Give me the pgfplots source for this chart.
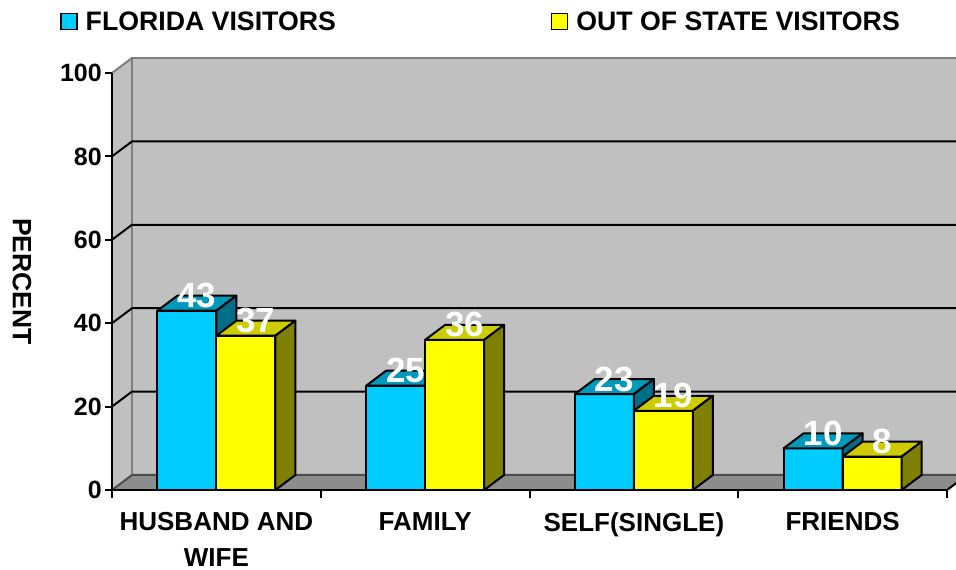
\documentclass[border=0pt]{standalone}
\usepackage{fontspec}
\setmainfont{Liberation Sans}
\usepackage{pgfplots}
\usepackage{pgfplotstable}
\pgfplotsset{compat=1.18}

\definecolor{flfront}{HTML}{00CCFF}
\definecolor{fltop}{HTML}{0099BB}
\definecolor{flside}{HTML}{006E87}
\definecolor{osfront}{HTML}{FFFF00}
\definecolor{ostop}{HTML}{CCCC00}
\definecolor{osside}{HTML}{808000}
\definecolor{wallgray}{HTML}{C0C0C0}
\definecolor{floorgray}{HTML}{8C8C8C}
\definecolor{edgegray}{HTML}{808080}

\pgfplotstableread{
x v
0.5 43
1.5 25
2.5 23
3.5 10
}\florida
\pgfplotstableread{
x v
0.5 37
1.5 36
2.5 19
3.5 8
}\outofstate

% 3D top and side faces of the bars (height taken from the data value)
\pgfdeclareplotmark{flbox}{%
  \pgfmathsetmacro\barhh{\yv*4.17}%
  \filldraw[fill=fltop,draw=black,line width=2bp,line join=round]
    (-59bp,0bp) -- (0bp,0bp) -- (20bp,15bp) -- (-39bp,15bp) -- cycle;
  \filldraw[fill=flside,draw=black,line width=2bp,line join=round]
    (0bp,0bp) -- (20bp,15bp) -- (20bp,15bp-\barhh bp) -- (0bp,-\barhh bp) -- cycle;
}
% the front face is repeated here so that it lies over the neighbouring side face
\pgfdeclareplotmark{osbox}{%
  \pgfmathsetmacro\barhh{\yv*4.17}%
  \filldraw[fill=osfront,draw=black,line width=2bp,line join=round]
    (0bp,0bp) rectangle (59bp,-\barhh bp);
  \filldraw[fill=ostop,draw=black,line width=2bp,line join=round]
    (0bp,0bp) -- (59bp,0bp) -- (79bp,15bp) -- (20bp,15bp) -- cycle;
  \filldraw[fill=osside,draw=black,line width=2bp,line join=round]
    (59bp,0bp) -- (79bp,15bp) -- (79bp,15bp-\barhh bp) -- (59bp,-\barhh bp) -- cycle;
}

\newcommand\bk[2]{([shift={(20bp,15bp)}]axis cs:#1,#2)}

\begin{document}
\begin{tikzpicture}
\useasboundingbox (0,0) rectangle (956bp,570bp);
\fill[white] (0,0) rectangle (956bp,570bp);
\clip (0,0) rectangle (956bp,570bp);
\begin{axis}[
  at={(112bp,80bp)}, anchor=south west,
  scale only axis, width=835bp, height=417bp,
  xmin=0, xmax=4, ymin=0, ymax=100,
  clip=false, axis on top,
  axis lines*=left,
  axis line style={black, line width=2bp},
  ytick={0,20,...,100},
  xtick={0.5,1.5,2.5,3.5},
  xticklabels={{HUSBAND AND\\WIFE},FAMILY,SELF(SINGLE),FRIENDS},
  xtick style={draw=none},
  ytick style={black, line width=2bp},
  tick align=outside, major tick length=7bp,
  /pgf/number format/assume math mode=true,
  yticklabel style={font=\bfseries\fontsize{25bp}{30bp}\selectfont, inner sep=0pt, xshift=-3bp},
  xticklabel style={font=\bfseries\fontsize{26bp}{36bp}\selectfont, align=center, inner sep=0pt, yshift=-15bp},
  ylabel={PERCENT},
  every axis y label/.style={at={([xshift=-90bp]axis description cs:0,0.5)}, rotate=-90, anchor=center, font=\bfseries\fontsize{26.5bp}{30bp}\selectfont},
  legend columns=2,
  legend style={draw=none, fill=none, inner sep=0pt,
    at={([xshift=-52bp,yshift=51.5bp]axis description cs:0,1)}, anchor=west,
    font=\bfseries\fontsize{26.7bp}{30bp}\selectfont,
    /tikz/every odd column/.append style={column sep=6bp},
    /tikz/every even column/.append style={column sep=213bp},
    cells={anchor=west}},
  legend image code/.code={\draw[#1,draw=black,line width=1.5bp] (0bp,-8bp) rectangle (16bp,8bp);},
]
% walls and floor
\fill[wallgray] \bk{0}{0} rectangle \bk{4.3}{100};
\fill[wallgray] (axis cs:0,0) -- (axis cs:0,100) -- \bk{0}{100} -- \bk{0}{0} -- cycle;
\fill[floorgray] (axis cs:0,0) -- (axis cs:4,0) -- \bk{4}{0} -- \bk{0}{0} -- cycle;
\draw[edgegray, line width=2bp] \bk{0}{0} -- \bk{0}{100} -- \bk{4.3}{100};
\draw[edgegray, line width=2bp] (axis cs:0,100) -- \bk{0}{100};
\draw[black!70, line width=2bp] (axis cs:0,0) -- \bk{0}{0} -- \bk{4.3}{0};
\draw[black, line width=2bp] (axis cs:4,0) -- \bk{4}{0};
\pgfplotsinvokeforeach{20,40,60,80}{
  \draw[black, line width=2bp] (axis cs:0,#1) -- \bk{0}{#1} -- \bk{4.3}{#1};
}
\pgfplotsinvokeforeach{0,1,2,3,4}{
  \draw[black, line width=2bp] (axis cs:#1,0) -- ++(0bp,-8bp);
}
% Florida visitors
\addplot[forget plot, ybar, bar width=59bp, bar shift=-29.5bp, fill=flfront, draw=black, line width=2bp]
  table[x=x,y=v]{\florida};
\addplot[forget plot, scatter, only marks, mark=flbox,
  scatter/@pre marker code/.code={}, scatter/@post marker code/.code={},
  visualization depends on={rawy \as \yv}]
  table[x=x,y=v]{\florida};
% Out of state visitors
\addplot[forget plot, ybar, bar width=59bp, bar shift=29.5bp, fill=osfront, draw=black, line width=2bp]
  table[x=x,y=v]{\outofstate};
\addplot[forget plot, scatter, only marks, mark=osbox,
  scatter/@pre marker code/.code={}, scatter/@post marker code/.code={},
  visualization depends on={rawy \as \yv}]
  table[x=x,y=v]{\outofstate};
% value labels
\addplot[forget plot, draw=none, mark=none, nodes near coords,
  every node near coord/.append style={anchor=base, xshift=-19.5bp, yshift=3bp, text=white,
    font=\bfseries\fontsize{35bp}{40bp}\selectfont, inner sep=0pt}]
  table[x=x,y=v]{\florida};
\addplot[forget plot, draw=none, mark=none, nodes near coords,
  every node near coord/.append style={anchor=base, xshift=39.5bp, yshift=3bp, text=white,
    font=\bfseries\fontsize{35bp}{40bp}\selectfont, inner sep=0pt}]
  table[x=x,y=v]{\outofstate};
\addlegendimage{fill=flfront}
\addlegendentry{FLORIDA VISITORS}
\addlegendimage{fill=osfront}
\addlegendentry{OUT OF STATE VISITORS}
\end{axis}
\end{tikzpicture}
\end{document}
